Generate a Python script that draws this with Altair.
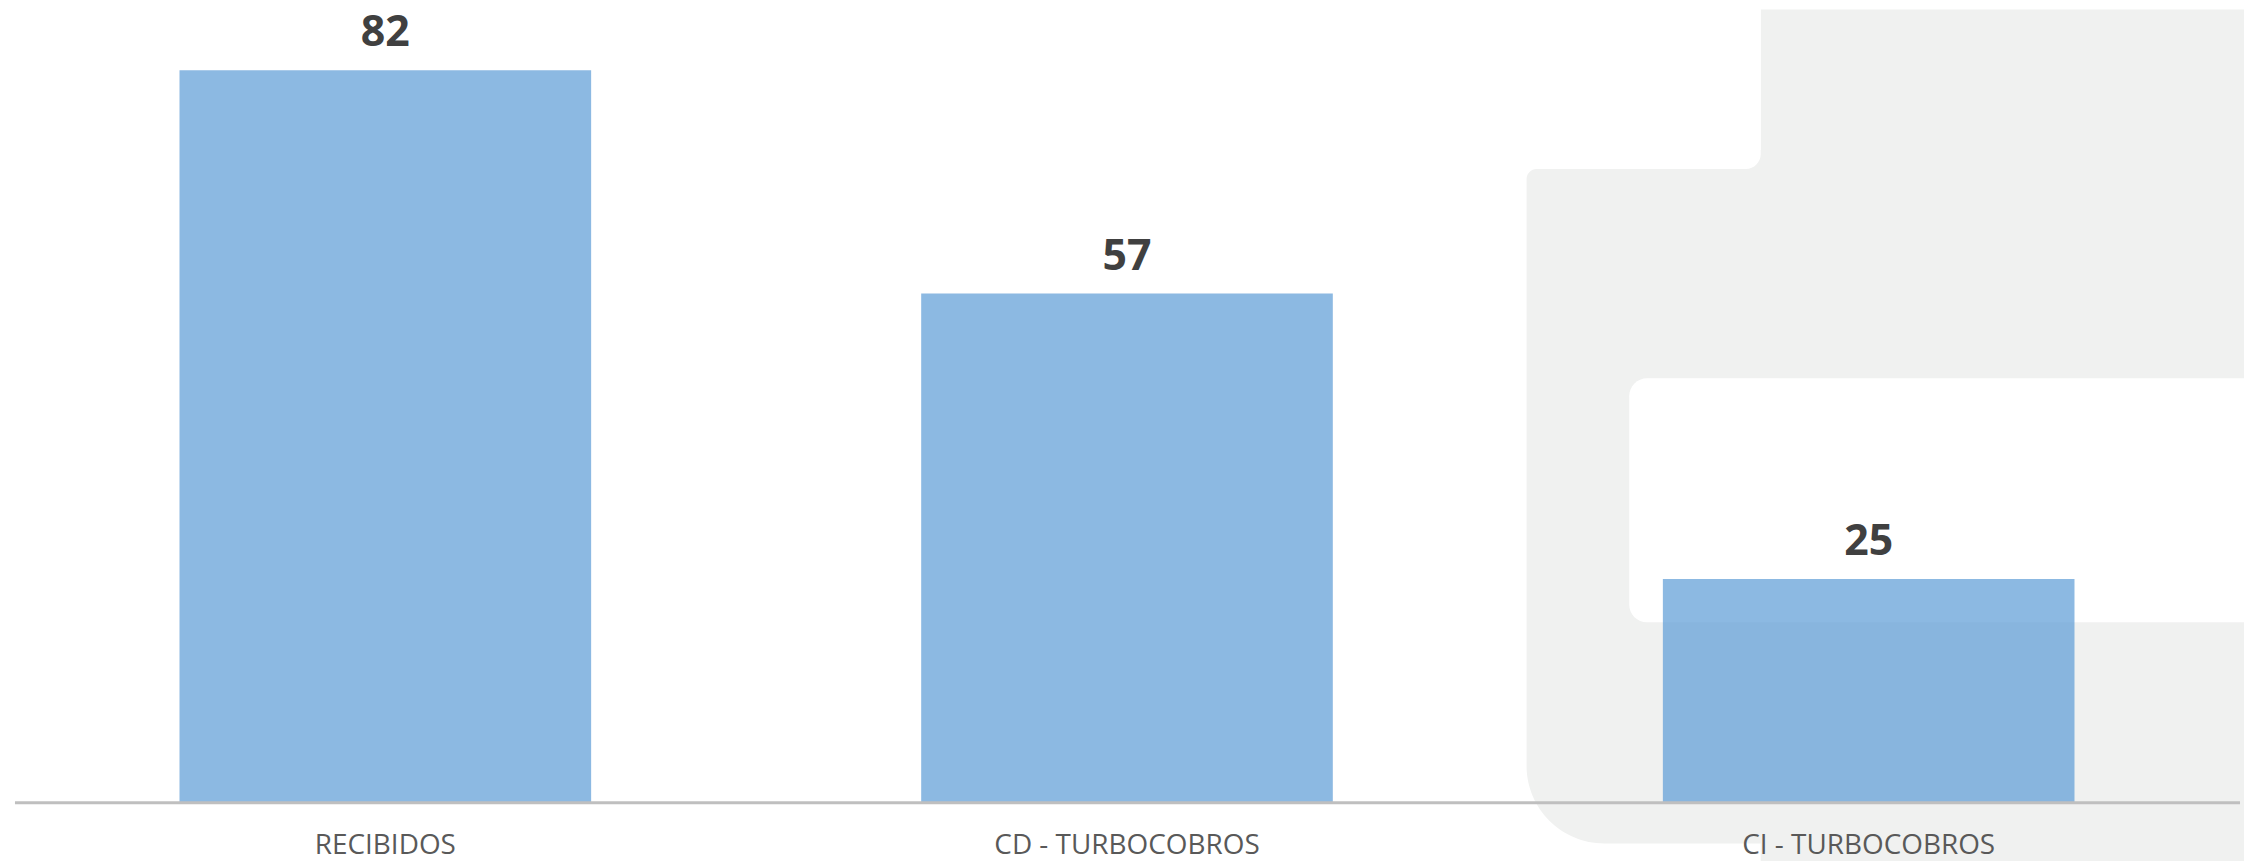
import altair as alt
import pandas as pd

categories = ["RECIBIDOS", "CD - TURBOCOBROS", "CI - TURBOCOBROS"]
values = [82, 57, 25]

df = pd.DataFrame({"categoria": categories, "valor": values})
one = pd.DataFrame({"k": [0]})

GRAY = "#f0f1f0"

def deco(x, x2, y, y2, color, **radius):
    return alt.Chart(one).mark_rect(color=color, **radius).encode(
        x=alt.value(x), x2=alt.value(x2), y=alt.value(y), y2=alt.value(y2)
    )

# decorative watermark shape (background)
bg = [
    deco(1752.5, 2245, -61, 800, GRAY),
    deco(1517.5, 2245, 99, 776, GRAY, cornerRadiusTopLeft=10, cornerRadiusBottomLeft=78),
    deco(1730, 1753, 80, 100, GRAY),
    deco(1500, 1752.5, -61, 99, "white", cornerRadiusBottomRight=15),
    deco(1620.5, 2245, 309, 554, "white", cornerRadiusTopLeft=18, cornerRadiusBottomLeft=18),
]

x_enc = alt.X(
    "categoria:N",
    sort=categories,
    scale=alt.Scale(paddingInner=0.445, paddingOuter=0.2225),
    axis=alt.Axis(
        title=None,
        ticks=False,
        labelAngle=0,
        labelFont="Open Sans",
        labelFontSize=28,
        labelColor="#595959",
        labelPadding=29,
        labelLimit=1000,
        domainColor="#bfbfbf",
        domainWidth=3,
        grid=False,
        zindex=1,
    ),
)
y_enc = alt.Y("valor:Q", scale=alt.Scale(domain=[0, 82]), axis=None)

base = alt.Chart(df).encode(x=x_enc, y=y_enc)

bars = base.mark_bar(color="#5B9BD5", fillOpacity=0.7)
labels = base.mark_text(
    dy=-24,
    baseline="alphabetic",
    font="Open Sans",
    fontWeight="bold",
    fontSize=43,
    color="#404040",
).encode(text="valor:Q")

chart = (
    alt.layer(*bg, bars, labels)
    .properties(
        width=2233,
        height=734.5,
        autosize=alt.AutoSizeParams(type="none"),
        padding={"left": 6.5, "top": 61, "right": 4.5, "bottom": 57.5},
        background="white",
    )
    .configure_view(stroke=None)
)

chart.save("out.html", embed_options={"renderer": "svg", "actions": False})
